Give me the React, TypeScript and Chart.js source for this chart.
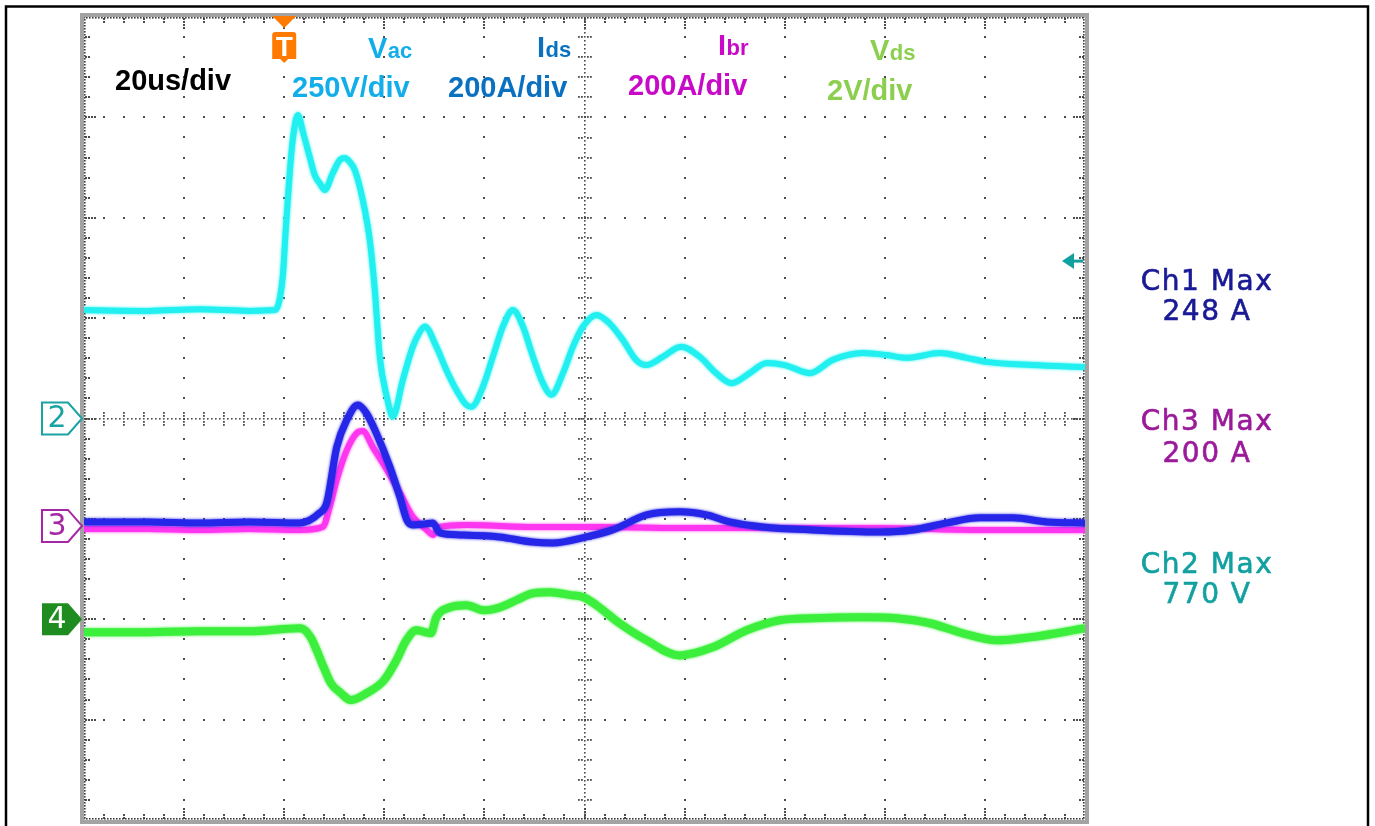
import React, { useEffect, useRef } from 'react';
import { Chart, registerables } from 'chart.js';

Chart.register(...registerables);

// ---------------- data ----------------
const timeTicksUs = [-40, -20, 0, 20, 40, 60, 80, 100, 120, 140, 160];
const divTicks = [-4, -3, -2, -1, 0, 1, 2, 3, 4];

// Ch2 : Vac (V), 250 V/div
const vacTimeUs = [-40, -27, -17, -7, -1.9, -0.3, 0.3, 1.1, 1.7, 2.7, 3.9, 5.1, 6.1, 7.1, 8.1, 9.7, 11.1, 12.1, 13.1, 14.1, 15.7, 17.1, 18.1, 19.1, 20.5, 21.7, 23.7, 25.7, 27.1, 28.1, 30.4, 32.4, 34.4, 36.4, 37.4, 39.7, 41.7, 43.7, 45.7, 47.7, 49.7, 51.7, 53.4, 55.7, 57.7, 59.7, 62.4, 65.0, 67.7, 70.3, 72.3, 75.7, 79.3, 83.0, 86.3, 89.4, 93.0, 96.4, 100.0, 105.0, 109.6, 115.6, 120.4, 124.4, 131.0, 136.4, 140.3, 149.5, 160];
const vacVolts = [270, 268, 272, 268, 270, 352, 469, 611, 693, 756, 706, 651, 606, 586, 569, 611, 644, 649, 639, 619, 544, 444, 320, 153, 54, 5, 96, 179, 216, 229, 179, 121, 71, 34, 29, 79, 154, 229, 270, 229, 154, 88, 59, 113, 179, 229, 258, 237, 195, 146, 133, 154, 179, 154, 113, 88, 113, 138, 133, 113, 146, 163, 158, 151, 163, 151, 141, 133, 128];

// Ch1 : Ids (A), 200 A/div
const idsTimeUs = [-40, -27, -17, -7, 3.1, 7.1, 8.5, 10.5, 12.5, 14.7, 16.4, 18.4, 21.1, 23.1, 24.5, 25.7, 28.1, 29.7, 31.1, 35.1, 43.0, 49.6, 53.6, 60.4, 65.6, 72.4, 79.0, 84.4, 89.0, 95.6, 105.6, 119.0, 125.6, 132.4, 139.0, 145.6, 152.4, 160];
const idsAmps = [8, 8, 6, 8, 6, 26, 46, 157, 211, 241, 225, 185, 118, 58, 12, 2, 4, 6, -14, -18, -22, -32, -34, -22, -8, 22, 28, 22, 8, -2, -8, -12, -8, 6, 16, 16, 8, 6];

// Ch3 : Ibr (A), 200 A/div
const ibrTimeUs = [-40, -27, -17, -7, 3.1, 7.7, 9.1, 10.5, 12.5, 14.5, 15.7, 17.7, 20.5, 23.1, 25.7, 28.5, 29.7, 31.1, 36.5, 49.6, 63.0, 79.0, 99.0, 119.0, 139.0, 160];
const ibrAmps = [-6, -6, -8, -6, -8, -2, 38, 92, 151, 185, 189, 157, 112, 66, 18, -8, -18, -2, 2, -2, -2, -4, -4, -4, -8, -8];

// Ch4 : Vds (V), 2 V/div
const vdsTimeUs = [-40, -29.7, -17, -7, 3.3, 5.3, 6.5, 7.9, 9.3, 11.3, 13.3, 16.5, 19.9, 22.4, 24.4, 26.4, 29.3, 30.4, 33.2, 36.4, 39.8, 43.2, 46.4, 49.8, 53.2, 57.2, 59.8, 62.4, 67.0, 72.4, 79.0, 85.6, 92.4, 99.0, 105.6, 115.6, 122.4, 129.0, 135.6, 142.4, 149.0, 160];
const vdsVolts = [-0.26, -0.26, -0.24, -0.24, -0.18, -0.36, -0.62, -0.96, -1.27, -1.47, -1.61, -1.47, -1.22, -0.82, -0.42, -0.22, -0.28, 0.04, 0.24, 0.28, 0.18, 0.24, 0.38, 0.52, 0.54, 0.48, 0.44, 0.28, -0.08, -0.42, -0.72, -0.56, -0.22, -0.02, 0.02, 0.04, 0.02, -0.08, -0.28, -0.42, -0.36, -0.18];

const vacTriggerLevelV = 392;

// ---------------- texts ----------------
const timebaseLabel = '20us/div';
const channelNameMain = ['V', 'I', 'I', 'V'];
const channelNameSub = ['ac', 'ds', 'br', 'ds'];
const channelScaleLabels = ['250V/div', '200A/div', '200A/div', '2V/div'];
const measurementTitles = ['Ch1 Max', 'Ch3 Max', 'Ch2 Max'];
const measurementValues = ['248 A', '200 A', '770 V'];
const markerLabels = ['2', '3', '4'];
const triggerLabel = 'T';

// ---------------- styles ----------------
const BOLD = '"Liberation Sans", Arial, sans-serif';
const SANS = '"DejaVu Sans", Verdana, sans-serif';
const headerStyle = [
  { nx: 368, ny: 58, sx: 292, sy: 97, color: '#12aeea' },
  { nx: 537, ny: 57, sx: 448, sy: 97, color: '#0a70c0' },
  { nx: 718, ny: 55, sx: 628, sy: 95, color: '#c80ac8' },
  { nx: 870, ny: 60, sx: 827, sy: 100, color: '#8ccf4e' },
];
const measureStyle = [
  { y1: 290, y2: 320, color: '#1a1a96' },
  { y1: 430, y2: 462, color: '#9a1a9a' },
  { y1: 573, y2: 603, color: '#12a0a0' },
];

const pts = (xs: number[], ys: number[]) => xs.map((x, i) => ({ x, y: ys[i] }));

const scopePlugin = {
  id: 'scopeDecor',
  beforeDatasetsDraw(chart: any) {
    const { ctx, chartArea: a, scales } = chart;
    const xs = scales.x;
    const ys = scales.y;
    ctx.save();
    const dot = (x: number, y: number, s = 2) => ctx.fillRect(Math.round(x - s / 2), Math.round(y - s / 2), s, s);
    const t0 = timeTicksUs[0];
    const tStep = timeTicksUs[1] - timeTicksUs[0];
    const xMinor: number[] = [];
    for (let i = 0; i <= (timeTicksUs.length - 1) * 5; i++) xMinor.push(xs.getPixelForValue(t0 + (i * tStep) / 5));
    const yMinor: number[] = [];
    for (let j = 0; j <= (divTicks.length - 1) * 5; j++) yMinor.push(ys.getPixelForValue(divTicks[0] + j / 5));
    const xMaj = timeTicksUs.map((t) => xs.getPixelForValue(t));
    const yMaj = divTicks.map((d) => ys.getPixelForValue(d));
    const cI = Math.floor(xMaj.length / 2);
    const cJ = Math.floor(yMaj.length / 2);
    ctx.fillStyle = '#4d4d4d';
    for (let i = 1; i < xMaj.length - 1; i++) {
      if (i === cI) continue;
      for (let j = 1; j < yMinor.length - 1; j++) dot(xMaj[i], yMinor[j]);
    }
    for (let j = 1; j < yMaj.length - 1; j++) {
      if (j === cJ) continue;
      for (let i = 1; i < xMinor.length - 1; i++) dot(xMinor[i], yMaj[j]);
    }
    const cx = xMaj[cI];
    const cy = yMaj[cJ];
    for (let y = a.top; y <= a.bottom; y += 4) dot(cx, y, 1.6);
    for (let x = a.left; x <= a.right; x += 4) dot(x, cy, 1.6);
    for (let j = 1; j < yMinor.length - 1; j++) {
      for (const o of [-6, -3, 3, 6]) dot(cx + o, yMinor[j], 1.8);
    }
    for (let i = 1; i < xMinor.length - 1; i++) {
      for (const o of [-6, -3, 3, 6]) dot(xMinor[i], cy + o, 1.8);
    }
    for (let j = 1; j < yMinor.length - 1; j++) {
      const major = j % 5 === 0;
      const offs = major ? [2, 5, 8, 11] : [2, 5];
      for (const o of offs) {
        dot(a.left + o, yMinor[j]);
        dot(a.right - o, yMinor[j]);
      }
    }
    for (let i = 1; i < xMinor.length - 1; i++) {
      const major = i % 5 === 0;
      const offs = major ? [2, 5, 8, 11] : [2, 5];
      for (const o of offs) {
        dot(xMinor[i], a.top + o);
        dot(xMinor[i], a.bottom - o);
      }
    }
    ctx.fillStyle = '#3a3a3a';
    for (let y = a.top; y <= a.bottom; y += 3) {
      dot(a.left + 1, y, 1.6);
      dot(a.right - 1, y, 1.6);
    }
    for (let x = a.left; x <= a.right; x += 3) {
      dot(x, a.top + 1, 1.6);
      dot(x, a.bottom - 1, 1.6);
    }
    ctx.restore();
  },
  beforeDatasetDraw(chart: any, args: any) {
    const ds = chart.data.datasets[args.index];
    chart.ctx.save();
    chart.ctx.shadowColor = ds.borderColor;
    chart.ctx.shadowBlur = 3;
  },
  afterDatasetDraw(chart: any) {
    chart.ctx.restore();
  },
  afterDraw(chart: any) {
    const { ctx, chartArea: a, scales } = chart;
    ctx.save();
    ctx.strokeStyle = '#a3a3a3';
    ctx.lineWidth = 4;
    ctx.strokeRect(a.left - 2, a.top - 2, a.right - a.left + 4, a.bottom - a.top + 4);
    ctx.strokeStyle = '#000';
    ctx.lineWidth = 2.5;
    ctx.strokeRect(6, 6.5, 1362, 840);

    ctx.textAlign = 'left';
    ctx.textBaseline = 'alphabetic';
    ctx.fillStyle = '#000';
    ctx.font = `bold 29px ${BOLD}`;
    ctx.fillText(timebaseLabel, 115, 90);
    headerStyle.forEach((s, k) => {
      ctx.fillStyle = s.color;
      ctx.font = `bold 29px ${BOLD}`;
      ctx.fillText(channelNameMain[k], s.nx, s.ny);
      const w = ctx.measureText(channelNameMain[k]).width;
      ctx.font = `bold 22px ${BOLD}`;
      ctx.fillText(channelNameSub[k], s.nx + w + 0.5, s.ny);
      ctx.font = `bold 29px ${BOLD}`;
      ctx.fillText(channelScaleLabels[k], s.sx, s.sy);
    });

    ctx.textAlign = 'center';
    ctx.font = `28px ${SANS}`;
    (ctx as any).letterSpacing = '1.5px';
    measureStyle.forEach((s, k) => {
      ctx.fillStyle = s.color;
      ctx.strokeStyle = s.color;
      ctx.lineWidth = 0.6;
      ctx.fillText(measurementTitles[k], 1207, s.y1);
      ctx.strokeText(measurementTitles[k], 1207, s.y1);
      ctx.fillText(measurementValues[k], 1207, s.y2);
      ctx.strokeText(measurementValues[k], 1207, s.y2);
    });
    (ctx as any).letterSpacing = '0px';

    const markerY = [scales.yVac.getPixelForValue(0), scales.yI.getPixelForValue(0), scales.yVds.getPixelForValue(0)];
    const markerColor = ['#1aa3a3', '#a626a6', '#1e8c1e'];
    markerY.forEach((y, k) => {
      const filled = k === 2;
      const l = 42, r = 68, tip = 82, h = 16;
      ctx.beginPath();
      ctx.moveTo(l, y - h);
      ctx.lineTo(r, y - h);
      ctx.lineTo(tip, y);
      ctx.lineTo(r, y + h);
      ctx.lineTo(l, y + h);
      ctx.closePath();
      if (filled) {
        ctx.fillStyle = markerColor[k];
        ctx.fill();
      } else {
        ctx.fillStyle = '#fff';
        ctx.fill();
        ctx.strokeStyle = markerColor[k];
        ctx.lineWidth = 2;
        ctx.stroke();
      }
      ctx.fillStyle = filled ? '#fff' : markerColor[k];
      ctx.font = `30px ${SANS}`;
      ctx.textAlign = 'center';
      ctx.textBaseline = 'middle';
      ctx.fillText(markerLabels[k], 57, y + 1);
    });

    const tx = scales.x.getPixelForValue(0);
    ctx.fillStyle = '#ff7a00';
    ctx.beginPath();
    ctx.moveTo(tx - 12, 16);
    ctx.lineTo(tx + 12, 16);
    ctx.lineTo(tx, 28);
    ctx.closePath();
    ctx.fill();
    ctx.beginPath();
    ctx.moveTo(tx - 12, 35);
    ctx.quadraticCurveTo(tx - 12, 32, tx - 9, 32);
    ctx.lineTo(tx + 9, 32);
    ctx.quadraticCurveTo(tx + 12, 32, tx + 12, 35);
    ctx.lineTo(tx + 12, 59);
    ctx.lineTo(tx + 4, 59);
    ctx.lineTo(tx, 63);
    ctx.lineTo(tx - 4, 59);
    ctx.lineTo(tx - 12, 59);
    ctx.closePath();
    ctx.fill();
    ctx.fillStyle = '#fff';
    ctx.font = `bold 28px ${BOLD}`;
    ctx.textAlign = 'center';
    ctx.textBaseline = 'alphabetic';
    ctx.fillText(triggerLabel, tx, 56);

    const ly = scales.yVac.getPixelForValue(vacTriggerLevelV);
    ctx.fillStyle = '#12a0a0';
    ctx.beginPath();
    ctx.moveTo(a.right - 23, ly);
    ctx.lineTo(a.right - 11, ly - 8);
    ctx.lineTo(a.right - 11, ly + 8);
    ctx.closePath();
    ctx.fill();
    ctx.fillRect(a.right - 12, ly - 1.5, 10, 3);
    ctx.restore();
  },
};

export default function App() {
  const canvasRef = useRef<HTMLCanvasElement | null>(null);
  useEffect(() => {
    if (!canvasRef.current) return;
    const chart = new Chart(canvasRef.current, {
      type: 'line',
      data: {
        datasets: [
          { label: 'Ids', data: pts(idsTimeUs, idsAmps), yAxisID: 'yI', borderColor: '#2626e8', borderWidth: 7 },
          { label: 'Ibr', data: pts(ibrTimeUs, ibrAmps), yAxisID: 'yI', borderColor: '#ff36f0', borderWidth: 6 },
          { label: 'Vac', data: pts(vacTimeUs, vacVolts), yAxisID: 'yVac', borderColor: '#22f0f0', borderWidth: 6 },
          { label: 'Vds', data: pts(vdsTimeUs, vdsVolts), yAxisID: 'yVds', borderColor: '#3cef3c', borderWidth: 8 },
        ],
      },
      options: {
        responsive: false,
        animation: false,
        devicePixelRatio: 1,
        layout: { padding: { left: 84, top: 17, right: 290, bottom: 6 } },
        plugins: { legend: { display: false }, tooltip: { enabled: false } },
        elements: { point: { radius: 0 }, line: { cubicInterpolationMode: 'monotone', fill: false } },
        scales: {
          x: { type: 'linear', min: -40, max: 160, display: false },
          y: { type: 'linear', min: -4, max: 4, display: false },
          yVac: { type: 'linear', min: -1000, max: 1000, display: false },
          yI: { type: 'linear', min: -586, max: 1014, display: false },
          yVds: { type: 'linear', min: -4, max: 12, display: false },
        },
      } as any,
      plugins: [scopePlugin],
    });
    return () => chart.destroy();
  }, []);
  return (
    <div style={{ position: 'fixed', left: 0, top: 0, width: 1375, height: 826, background: '#fff' }}>
      <canvas ref={canvasRef} width={1375} height={826} style={{ display: 'block' }} />
    </div>
  );
}
